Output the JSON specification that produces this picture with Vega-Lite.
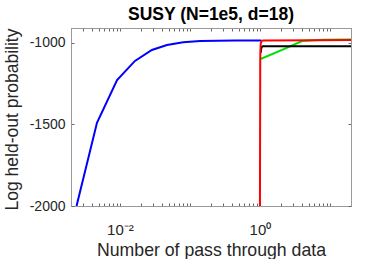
{
  "$schema": "https://vega.github.io/schema/vega-lite/v6.json",
  "width": 280,
  "height": 178,
  "autosize": {"type": "none"},
  "padding": {"left": 71, "top": 28, "right": 37, "bottom": 53},
  "background": "white",
  "config": {
    "view": {"stroke": "#999999", "strokeWidth": 1},
    "font": "Liberation Sans",
    "axis": {"grid": false, "domainColor": "#999999", "tickColor": "#666666", "labelColor": "#262626", "titleColor": "#262626", "labelFont": "Liberation Sans", "titleFont": "Liberation Sans", "titleFontWeight": "normal"}
  },
  "title": {"text": "SUSY (N=1e5, d=18)", "fontSize": 17.5, "fontWeight": "bold", "font": "Liberation Sans", "color": "#000000", "offset": 4, "anchor": "middle"},
  "data": {"values": [
    {"s": "blue", "x": 0.0024, "y": -2000},
    {"s": "blue", "x": 0.0047, "y": -1490},
    {"s": "blue", "x": 0.0091, "y": -1227},
    {"s": "blue", "x": 0.0164, "y": -1110},
    {"s": "blue", "x": 0.0286, "y": -1043},
    {"s": "blue", "x": 0.047, "y": -1012},
    {"s": "blue", "x": 0.08, "y": -995},
    {"s": "blue", "x": 0.14, "y": -988},
    {"s": "blue", "x": 0.25, "y": -986},
    {"s": "blue", "x": 0.45, "y": -985},
    {"s": "blue", "x": 0.8, "y": -985},
    {"s": "blue", "x": 1.05, "y": -985},
    {"s": "green", "x": 1.02, "y": -1098},
    {"s": "green", "x": 2.0, "y": -1045},
    {"s": "green", "x": 4.0, "y": -988},
    {"s": "green", "x": 8.0, "y": -980},
    {"s": "green", "x": 20, "y": -978},
    {"s": "black", "x": 1.03, "y": -1060},
    {"s": "black", "x": 1.05, "y": -1030},
    {"s": "black", "x": 1.1, "y": -1020},
    {"s": "black", "x": 20, "y": -1020},
    {"s": "red", "x": 1.0, "y": -2100},
    {"s": "red", "x": 1.01, "y": -1100},
    {"s": "red", "x": 1.03, "y": -1000},
    {"s": "red", "x": 1.1, "y": -984},
    {"s": "red", "x": 20, "y": -982}
  ]},
  "layer": [
    {
      "transform": [{"filter": "datum.s == 'blue'"}],
      "mark": {"type": "line", "color": "#0000ff", "strokeWidth": 2, "clip": true},
      "encoding": {
        "x": {"field": "x", "type": "quantitative",
          "scale": {"type": "log", "domain": [0.002, 20], "nice": false},
          "axis": {"title": "Number of pass through data", "titleFontSize": 17.7, "titleY": 49, "titleBaseline": "alphabetic",
            "values": [0.002,0.003,0.004,0.005,0.006,0.007,0.008,0.009,0.01,0.02,0.03,0.04,0.05,0.06,0.07,0.08,0.09,0.1,0.2,0.3,0.4,0.5,0.6,0.7,0.8,0.9,1,2,3,4,5,6,7,8,9,10,20],
            "labelExpr": "datum.value == 0.01 ? '10⁻²' : (datum.value == 1 ? '10⁰' : '')",
            "tickSize": -3, "labelPadding": 19, "labelFontSize": 15, "labelFlush": false}},
        "y": {"field": "y", "type": "quantitative",
          "scale": {"domain": [-2000, -908], "nice": false, "zero": false},
          "axis": {"title": "Log held-out probability", "titleFontSize": 17.5, "titleX": -58.5, "titleY": 91, "titleBaseline": "middle", "titleAlign": "center", "titleAngle": -90,
            "values": [-2000, -1500, -1000], "labelExpr": "'' + datum.value",
            "tickSize": -3, "labelPadding": 9, "labelFontSize": 14}}
      }
    },
    {
      "transform": [{"filter": "datum.s == 'red'"}],
      "mark": {"type": "point", "opacity": 0},
      "encoding": {
        "x": {"field": "x", "type": "quantitative",
          "axis": {"orient": "top", "title": null, "labels": false,
            "values": [0.002,0.003,0.004,0.005,0.006,0.007,0.008,0.009,0.01,0.02,0.03,0.04,0.05,0.06,0.07,0.08,0.09,0.1,0.2,0.3,0.4,0.5,0.6,0.7,0.8,0.9,1,2,3,4,5,6,7,8,9,10,20],
            "tickSize": -3}},
        "y": {"field": "y", "type": "quantitative",
          "axis": {"orient": "right", "title": null, "labels": false, "values": [-2000, -1500, -1000], "tickSize": -3}}
      }
    },
    {
      "transform": [{"filter": "datum.s == 'green'"}],
      "mark": {"type": "line", "color": "#00e000", "strokeWidth": 2, "clip": true},
      "encoding": {"x": {"field": "x", "type": "quantitative", "axis": null}, "y": {"field": "y", "type": "quantitative", "axis": null}}
    },
    {
      "transform": [{"filter": "datum.s == 'black'"}],
      "mark": {"type": "line", "color": "#000000", "strokeWidth": 2, "clip": true, "interpolate": "monotone"},
      "encoding": {"x": {"field": "x", "type": "quantitative", "axis": null}, "y": {"field": "y", "type": "quantitative", "axis": null}}
    },
    {
      "transform": [{"filter": "datum.s == 'red'"}],
      "mark": {"type": "line", "color": "#ff0000", "strokeWidth": 2, "clip": true, "interpolate": "monotone"},
      "encoding": {"x": {"field": "x", "type": "quantitative", "axis": null}, "y": {"field": "y", "type": "quantitative", "axis": null}}
    }
  ],
  "resolve": {"axis": {"x": "independent", "y": "independent"}}
}
